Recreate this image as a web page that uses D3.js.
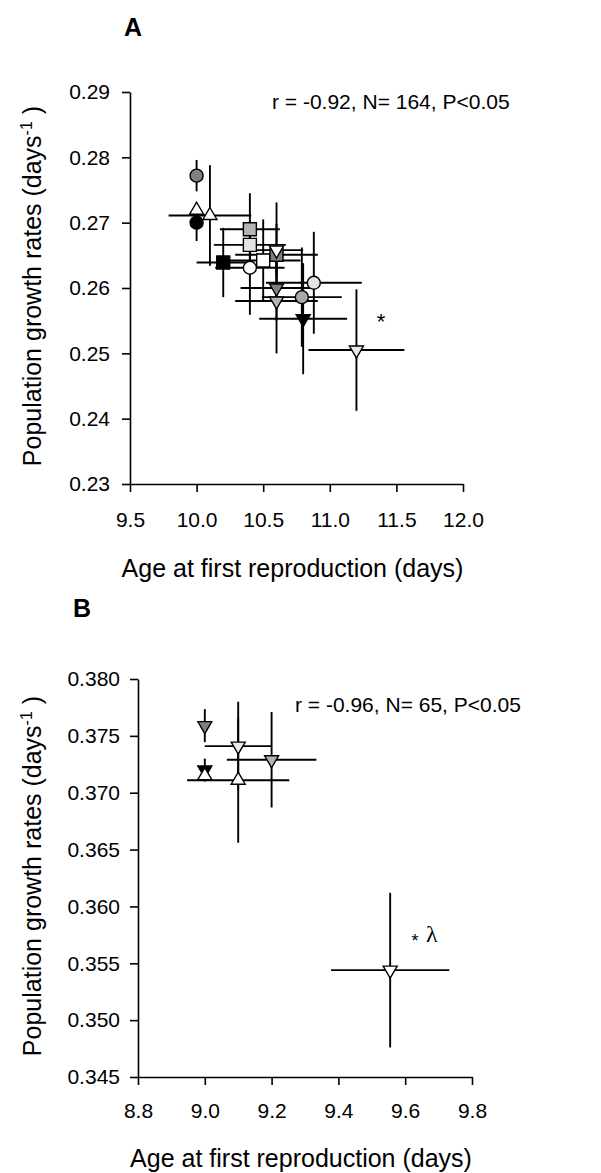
<!DOCTYPE html>
<html>
<head>
<meta charset="utf-8">
<script src="https://cdn.jsdelivr.net/npm/d3@7"></script>
<style>
  body { margin: 0; background: #fff; }
  text { font-family: Arial, "Liberation Sans", sans-serif; fill: #000; }
</style>
</head>
<body>
<svg id="chart" width="601" height="1173"></svg>
<script>
"use strict";

// ---- panel A data ----
const aSeries = ["a1","a2","a3","a4","a5","a6","a7","a8","a9","a10","a11","a12","a13","a14","a15","a16","a17"];
const aAge    = [10.0, 10.0, 10.0, 10.1, 10.2, 10.4, 10.4, 10.5, 10.4, 10.6, 10.6, 10.6, 10.6, 10.88, 10.79, 10.8, 11.2];
const aRate   = [0.2772, 0.2719, 0.2700, 0.2711, 0.2639, 0.2690, 0.2666, 0.2642, 0.2631, 0.2651, 0.2658, 0.2600, 0.2580, 0.2608, 0.2586, 0.2553, 0.2505];
const aAgeErr = [0, 0, 0, 0.31, 0.2, 0.225, 0.27, 0.28, 0.26, 0.31, 0.2, 0.27, 0.31, 0.36, 0.3, 0.33, 0.36];
const aRateErr= [0.0024, 0.001, 0.0028, 0.0077, 0.0053, 0.0055, 0.003, 0.0063, 0.0072, 0.008, 0.004, 0.005, 0.008, 0.0078, 0.0076, 0.0085, 0.0093];
const aXTicks = [9.5, 10.0, 10.5, 11.0, 11.5, 12.0];
const aYTicks = [0.23, 0.24, 0.25, 0.26, 0.27, 0.28, 0.29];

// ---- panel B data ----
const bSeries = ["b1","b2","b3","b4","b5","b6","b7"];
const bAge    = [9.0, 9.1, 9.2, 9.0, 9.0, 9.1, 9.555];
const bRate   = [0.3759, 0.3741, 0.3729, 0.3720, 0.3715, 0.3711, 0.3544];
const bAgeErr = [0, 0.1, 0.134, 0, 0, 0.153, 0.177];
const bRateErr= [0.00145, 0.0039, 0.0042, 0.001, 0.0005, 0.0055, 0.0068];
const bXTicks = [8.8, 9.0, 9.2, 9.4, 9.6, 9.8];
const bYTicks = [0.345, 0.350, 0.355, 0.360, 0.365, 0.370, 0.375, 0.380];

// symbol look for each series (shape, fill)
const symA = {
  a1:["circle","#808080"], a2:["up","#fff"], a3:["circle","#000"], a4:["up","#fff"],
  a5:["square","#000"], a6:["square","#b4b4b4"], a7:["square","#e4e4e4"], a8:["square","#fff"],
  a9:["circle","#fff"], a10:["square","#808080"], a11:["down","#fff"], a12:["down","#808080"],
  a13:["down","#b4b4b4"], a14:["circle","#e4e4e4"], a15:["circle","#a8a8a8"], a16:["down","#000"],
  a17:["down","#e8e8e8"]
};
const symB = {
  b1:["down","#808080"], b2:["down","#e8e8e8"], b3:["down","#b4b4b4"], b4:["down","#000"],
  b5:["up","#fff"], b6:["up","#fff"], b7:["down","#fff"]
};

const svg = d3.select("#chart");

function shapePath(kind){
  if(kind === "circle") return d3.symbol(d3.symbolCircle, 133)();
  if(kind === "square") return "M-6.5,-6.5H6.5V6.5H-6.5Z";
  const w = 14, h = 12;
  if(kind === "up") return `M0,${-2*h/3}L${w/2},${h/3}L${-w/2},${h/3}Z`;
  return `M0,${2*h/3}L${w/2},${-h/3}L${-w/2},${-h/3}Z`;
}

function drawPanel(p){
  const x = d3.scaleLinear().domain(p.xDomain).range(p.xRange);
  const y = d3.scaleLinear().domain(p.yDomain).range(p.yRange);
  const g = svg.append("g");

  const xAxis = g.append("g")
    .attr("transform", `translate(0,${p.yRange[0]})`)
    .call(d3.axisBottom(x).tickValues(p.xTicks).tickFormat(d3.format(".1f"))
      .tickSize(8).tickSizeOuter(0).tickPadding(p.xPad));
  const yAxis = g.append("g")
    .attr("transform", `translate(${p.xRange[0]},0)`)
    .call(d3.axisLeft(y).tickValues(p.yTicks).tickFormat(d3.format(p.yFmt))
      .tickSize(8).tickSizeOuter(0).tickPadding(p.yPad));
  [xAxis, yAxis].forEach(a => {
    a.selectAll("path, line").attr("stroke", "#000").attr("stroke-width", 1.6);
    a.selectAll("text").style("font-size", "21px").attr("fill", "#000");
  });

  const rows = p.series.map((s, i) => ({s, x:p.age[i], y:p.rate[i], ex:p.ageErr[i], ey:p.rateErr[i]}));

  const bars = g.append("g").attr("stroke", "#000").attr("stroke-width", 1.9);
  bars.selectAll(".h").data(rows.filter(d => d.ex > 0)).join("line")
    .attr("x1", d => x(d.x - d.ex)).attr("x2", d => x(d.x + d.ex))
    .attr("y1", d => y(d.y)).attr("y2", d => y(d.y));
  bars.selectAll(".v").data(rows.filter(d => d.ey > 0)).join("line")
    .attr("x1", d => x(d.x)).attr("x2", d => x(d.x))
    .attr("y1", d => y(d.y - d.ey)).attr("y2", d => y(d.y + d.ey));

  g.append("g").selectAll("path").data(rows).join("path")
    .attr("transform", d => `translate(${x(d.x)},${y(d.y)})`)
    .attr("d", d => shapePath(p.sym[d.s][0]))
    .attr("fill", d => p.sym[d.s][1])
    .attr("stroke", "#000").attr("stroke-width", 1.4);

  // titles
  const xMid = (p.xRange[0] + p.xRange[1]) / 2 - 4;
  g.append("text").attr("x", xMid).attr("y", p.xTitleY)
    .attr("text-anchor", "middle").style("font-size", "25px")
    .text("Age at first reproduction (days)");

  const yMid = (p.yRange[0] + p.yRange[1]) / 2 - 2;
  const yt = g.append("text").attr("transform", `translate(41,${yMid}) rotate(-90)`)
    .attr("text-anchor", "middle").style("font-size", "25px");
  yt.append("tspan").text("Population growth rates (days");
  yt.append("tspan").attr("baseline-shift", "9").style("font-size", "16px").text("-1");
  yt.append("tspan").text(" )");

  g.append("text").attr("x", p.statX).attr("y", p.statY).style("font-size", "21px").text(p.stat);
  g.append("text").attr("x", p.letterX).attr("y", p.letterY)
    .style("font-size", "25px").style("font-weight", "bold").text(p.letter);
  return g;
}

const gA = drawPanel({
  series:aSeries, age:aAge, rate:aRate, ageErr:aAgeErr, rateErr:aRateErr, sym:symA,
  xDomain:[9.5, 12.0], xRange:[130, 463], yDomain:[0.23, 0.29], yRange:[484, 92],
  xTicks:aXTicks, yTicks:aYTicks, yFmt:".2f", xPad:20, yPad:12,
  xTitleY:577, stat:"r = -0.92, N= 164, P<0.05", statX:272, statY:109,
  letter:"A", letterX:124, letterY:36
});
gA.append("text").attr("x", 381).attr("y", 329).attr("text-anchor", "middle")
  .style("font-size", "22px").text("*");

const gB = drawPanel({
  series:bSeries, age:bAge, rate:bRate, ageErr:bAgeErr, rateErr:bRateErr, sym:symB,
  xDomain:[8.8, 9.8], xRange:[138, 472], yDomain:[0.345, 0.380], yRange:[1077, 679],
  xTicks:bXTicks, yTicks:bYTicks, yFmt:".3f", xPad:18, yPad:10,
  xTitleY:1167, stat:"r = -0.96, N= 65, P<0.05", statX:295, statY:712,
  letter:"B", letterX:73, letterY:617
});
gB.append("text").attr("x", 415).attr("y", 947).attr("text-anchor", "middle")
  .style("font-size", "18px").text("*");
gB.append("text").attr("x", 426).attr("y", 942)
  .style("font-size", "24px").style("font-family", "'Liberation Serif', 'Times New Roman', serif")
  .text("λ");
</script>
</body>
</html>
